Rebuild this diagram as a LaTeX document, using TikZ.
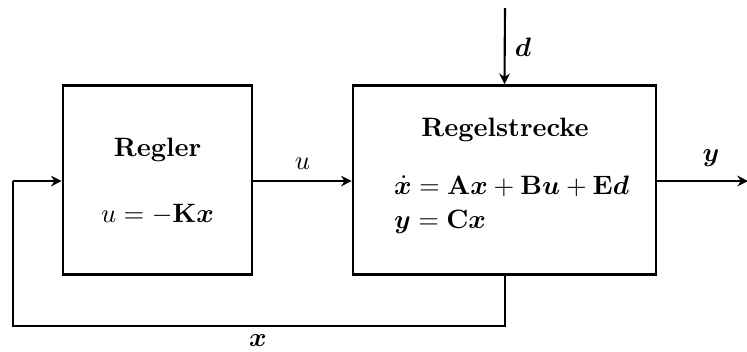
\documentclass[tikz,border=0pt]{standalone}
\usepackage{amsmath,bm}
\usetikzlibrary{arrows.meta}
\begin{document}
\begin{tikzpicture}[x=0.376pt,y=-0.376pt,
  blk/.style={draw,line width=1pt,minimum width=189*0.376pt,minimum height=189*0.376pt,inner sep=0pt},
  sig/.style={line width=0.8pt,-{Stealth[length=4pt,width=4pt,inset=1.3pt]}},
  wire/.style={line width=0.8pt},
  lbl/.style={inner sep=1pt}]
\useasboundingbox (0,0) rectangle (747,351);
\node[blk] (reg) at (157.5,180) {};
\node[blk,minimum width=303*0.376pt] (plant) at (504.5,180) {};
\node[lbl] (regt) at (157.5,150) {\textbf{Regler}};
\node[lbl] (regeq) at (157.5,214) {$u=-\mathbf{K}\bm{x}$};
\node[lbl] (plt) at (505,130) {\textbf{Regelstrecke}};
\node[lbl,anchor=west] (pe1) at (391,186) {$\dot{\bm{x}}=\mathbf{A}\bm{x}+\mathbf{B}\bm{u}+\mathbf{E}\bm{d}$};
\node[lbl,anchor=west] (pe2) at (391,222) {$\bm{y}=\mathbf{C}\bm{x}$};
\coordinate (dtop) at (505,8);
\coordinate (yend) at (748,181);
\coordinate (fbl) at (13,326);
\coordinate (fbr) at (505,326);
\coordinate (fbt) at (13,181);
\draw[sig] (dtop) -- (plant.north);
\draw[sig] (reg.east |- 0,181) -- node[above,lbl,yshift=3pt] (ul) {$u$} (plant.west |- 0,181);
\draw[sig] (plant.east |- 0,181) -- (yend);
\node (yl) at (711,158) {$\bm{y}$};
\node (dl) at (523,47) {$\bm{d}$};
\draw[wire] (plant.south -| fbr) -- (fbr) -- (fbl) -- (fbt);
\draw[sig] (fbt) -- (reg.west |- 0,181);
\node (xl) at (258,341) {$\bm{x}$};
\end{tikzpicture}
\end{document}
